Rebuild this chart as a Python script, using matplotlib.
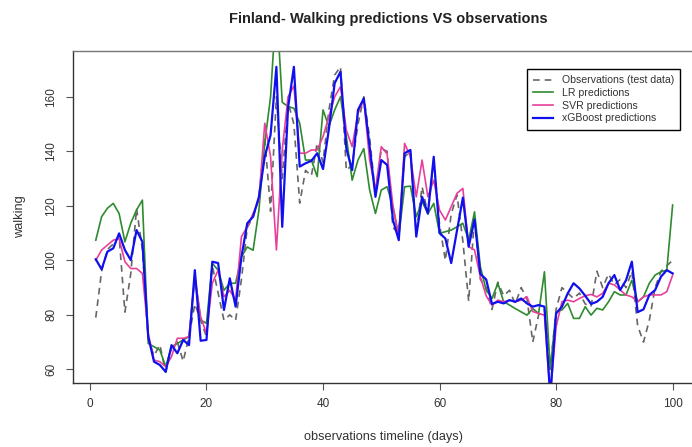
import numpy as np
import matplotlib
matplotlib.use("Agg")
import matplotlib.pyplot as plt

plt.rcParams['font.family'] = ['Liberation Sans', 'DejaVu Sans']

# values (days 1..100)
days = np.arange(1, 101)

observed = [79, 96, 104, 106, 109, 81, 95, 119, 104, 71,
            65, 69, 59, 68, 70, 63, 72, 84, 78, 72,
            98, 88, 78, 80, 78, 93, 112, 116, 123, 145,
            118, 160, 130, 158, 150, 121, 133, 131, 143, 136,
            155, 168, 171, 133, 135, 150, 160, 145, 124, 141,
            140, 112, 110, 138, 140, 110, 127, 117, 137, 113,
            100, 117, 124, 107, 85, 116, 93, 90, 82, 92,
            87, 89, 84, 90, 86, 70, 80, 82, 60, 82,
            90, 88, 86, 88, 84, 83, 96, 90, 95, 91,
            93, 90, 96, 76, 70, 78, 90, 96, 98, 100]

lr_pred = [107.4, 116, 119.1, 120.9, 117.2, 106.8, 113.6, 118.5, 122.1, 69.5,
           68.3, 67.1, 61, 68.3, 69.5, 70.8, 72, 94, 78.1, 76.9,
           98.9, 96.4, 89, 91.6, 91.6, 101.3, 104.9, 103.7, 118.4, 143,
           160, 195, 158, 156.4, 155.8, 150.3, 136.8, 136.8, 130.7, 155.2,
           149.1, 155.2, 160, 145.4, 129.4, 136.8, 141, 125.8, 117.2, 125.8,
           127, 119.7, 108.7, 127, 127.2, 116, 121.5, 117.2, 120.9, 109.9,
           110.5, 111.1, 112.3, 113.6, 107.4, 117.8, 97.7, 89.1, 86, 91.6,
           84.8, 83.6, 82.3, 81.1, 79.9, 82.3, 80.5, 95.8, 60, 81.1,
           81.8, 84.2, 78.7, 78.7, 83, 79.9, 82.4, 81.8, 84.8, 88.5,
           87.3, 87.3, 92.7, 84.8, 86.6, 91.6, 94.6, 95.8, 96.4, 120.3]

svr_pred = [100, 103.8, 105.6, 107.4, 108, 99.5, 97, 97, 95.2, 73.2,
            63.4, 62.8, 61, 64.7, 71.4, 71.4, 72, 94, 79.3, 73.2,
            91.6, 96.4, 86.6, 89, 85.3, 108.7, 112.3, 117.2, 122.1, 150.3,
            138, 103.8, 140.5, 160, 164, 139.3, 139.3, 140.5, 140.5, 145.4,
            152.7, 160, 163.7, 147.8, 141.7, 154, 158.9, 136.8, 125.8, 141.7,
            139, 120, 108.7, 142.9, 138, 123.3, 136.8, 123.3, 129.4, 118.4,
            114.8, 119.7, 124.6, 126.4, 105, 103.8, 94, 87, 83.5, 85.4,
            84.8, 85.4, 84.8, 85.4, 86.6, 81.2, 80.5, 79.9, 50, 75.6,
            84.8, 85.4, 84.8, 86, 87, 87.5, 86.6, 87.9, 91.6, 91,
            89.1, 87.3, 86.6, 84.8, 86.6, 87.3, 87.3, 87.3, 88.5, 94.6]

xgb_pred = [100.4, 96.7, 103.2, 104.4, 109.9, 103.8, 100.1, 111.1, 106.8, 72,
            62.8, 61.6, 59.1, 68.9, 65.9, 70.8, 68.9, 96.4, 70.5, 70.8,
            99.5, 99, 81.8, 93.4, 83, 101.3, 113.6, 116, 123.3, 138,
            146, 171, 112.3, 156, 171, 134.4, 135.6, 136.5, 139.3, 133.5,
            148, 165, 169.2, 141, 133.1, 155.2, 159.4, 141.7, 123.3, 136.8,
            135, 114.8, 107.4, 139.3, 140.5, 108.7, 123.3, 117.2, 138, 110,
            108, 99, 111, 123, 105, 115, 95, 93, 84, 84.8,
            84.2, 85.4, 84.8, 86, 84.2, 83, 83.6, 83, 50, 80.5,
            83, 87.9, 91.6, 89.7, 87, 84, 84.8, 86.6, 91.6, 94.6,
            89.1, 92.7, 99.5, 81, 82, 87.3, 89.1, 94, 96.4, 95.2]

W, H = 692, 447
fig = plt.figure(figsize=(W / 100, H / 100), dpi=100)
# plot region runs a little past the right edge, like the cropped original
ax = fig.add_axes([72.7 / W, 1 - 383 / H, 623 / W, 332 / H])

ax.plot(days, observed, color='#666666', lw=1.2, dashes=(4, 3),
        label='Observations (test data)')
ax.plot(days, lr_pred, color='#2e8b2e', lw=1.2, label='LR predictions')
ax.plot(days, svr_pred, color='#e8409a', lw=1.2, label='SVR predictions')
ax.plot(days, xgb_pred, color='#1010ee', lw=1.6, label='xGBoost predictions')

ax.set_xlim(-2.96, 103.96)
ax.set_ylim(55, 176.8)
ax.set_xticks([0, 20, 40, 60, 80, 100])
ax.set_yticks([60, 80, 100, 120, 140, 160])
ax.tick_params(direction='out', length=5, width=0.8, colors='#555555',
               labelcolor='#333333', labelsize=8.5, pad=6)
for lab in ax.get_yticklabels():
    lab.set_rotation(90)
    lab.set_va('center')
for side, sp in ax.spines.items():
    sp.set_color('#333333')
    sp.set_linewidth(1.0)
ax.spines['top'].set_color('#777777')

fig.text(388 / W, 1 - 19 / H, 'Finland- Walking predictions VS observations',
         ha='center', va='center', fontsize=10.5, fontweight='bold', color='#222222')
fig.text(384 / W, 1 - 437 / H, 'observations timeline (days)',
         ha='center', va='center', fontsize=9.2, color='#333333')
fig.text(20 / W, 1 - 217 / H, 'walking', rotation=90,
         ha='center', va='center', fontsize=9.2, color='#333333')

leg = ax.legend(loc='upper left', bbox_to_anchor=(527 / W, 1 - 69 / H),
                bbox_transform=fig.transFigure, fontsize=7.6, frameon=True,
                fancybox=False, edgecolor='black', framealpha=1,
                handlelength=1.9, handletextpad=0.8, labelspacing=0.25,
                borderpad=0.6, borderaxespad=0)
leg.get_frame().set_linewidth(1.0)
for t in leg.get_texts():
    t.set_color('#333333')

fig.savefig('out.png', dpi=100)
